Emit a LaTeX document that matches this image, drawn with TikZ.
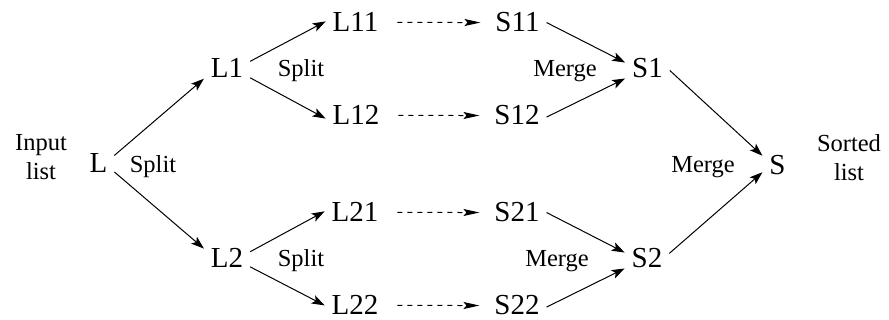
\documentclass[tikz,border=0pt]{standalone}
\usepackage{fontspec}
\setmainfont{Liberation Serif}
\usetikzlibrary{arrows.meta}
\begin{document}
\begin{tikzpicture}[x=1pt,y=-1pt,
  item/.style={font=\fontsize{29}{33}\selectfont, inner sep=7pt, outer sep=0pt, anchor=base},
  lbl/.style={font=\fontsize{24.5}{29}\selectfont, inner sep=0pt, anchor=base, align=center},
  conn/.style={line width=1pt, -{Stealth[length=13pt,width=9pt,inset=3pt]}},
  dconn/.style={line width=1pt, dash pattern=on 5pt off 5pt, -{Stealth[length=16pt,width=7pt,inset=3pt]}, shorten <=12pt, shorten >=8pt}]
\useasboundingbox (0,0) rectangle (889,320);
% main nodes (positions are baselines)
\node[item] (L)   at (98.5,173) {L};
\node[item] (L1)  at (227,78)   {L1};
\node[item] (L2)  at (227,268)  {L2};
\node[item] (L11) at (355.5,32) {L11};
\node[item] (L12) at (356,125)  {L12};
\node[item] (L21) at (355,222)  {L21};
\node[item] (L22) at (355,315)  {L22};
\node[item] (S11) at (517.5,32) {S11};
\node[item] (S12) at (517,125)  {S12};
\node[item] (S21) at (517,222)  {S21};
\node[item] (S22) at (517,315)  {S22};
\node[item] (S1)  at (647.5,78) {S1};
\node[item] (S2)  at (647,268)  {S2};
\node[item] (S)   at (777.5,175) {S};
% labels
\node[lbl] (in)  at (41,180) {Input\\list};
\node[lbl] (so)  at (849,181) {Sorted\\list};
\node[lbl] (sp0) at (153,173) {Split};
\node[lbl] (sp1) at (301,77)  {Split};
\node[lbl] (sp2) at (301,267) {Split};
\node[lbl] (mg1) at (565,77)  {Merge};
\node[lbl] (mg2) at (557,267) {Merge};
\node[lbl] (mg0) at (703,173) {Merge};
% connectors
\draw[conn] (L.27)   -- (L1.204);
\draw[conn] (L.-28)  -- (L2.157);
\draw[conn] (L1.17)  -- (L11.178);
\draw[conn] (L1.-22) -- (L12.186);
\draw[conn] (L2.16)  -- (L21.178);
\draw[conn] (L2.-20) -- (L22.180);
\draw[dconn] (L11.east) -- (S11.west);
\draw[dconn] (L12.east) -- (S12.west);
\draw[dconn] (L21.east) -- (S21.west);
\draw[dconn] (L22.east) -- (S22.west);
\draw[conn] (S11.0)  -- (S1.165);
\draw[conn] (S12.-3) -- (S1.204);
\draw[conn] (S21.0)  -- (S2.165);
\draw[conn] (S22.-3) -- (S2.204);
\draw[conn] (S1.-5)  -- (S.147);
\draw[conn] (S2.13)  -- (S.204);
\end{tikzpicture}
\end{document}
